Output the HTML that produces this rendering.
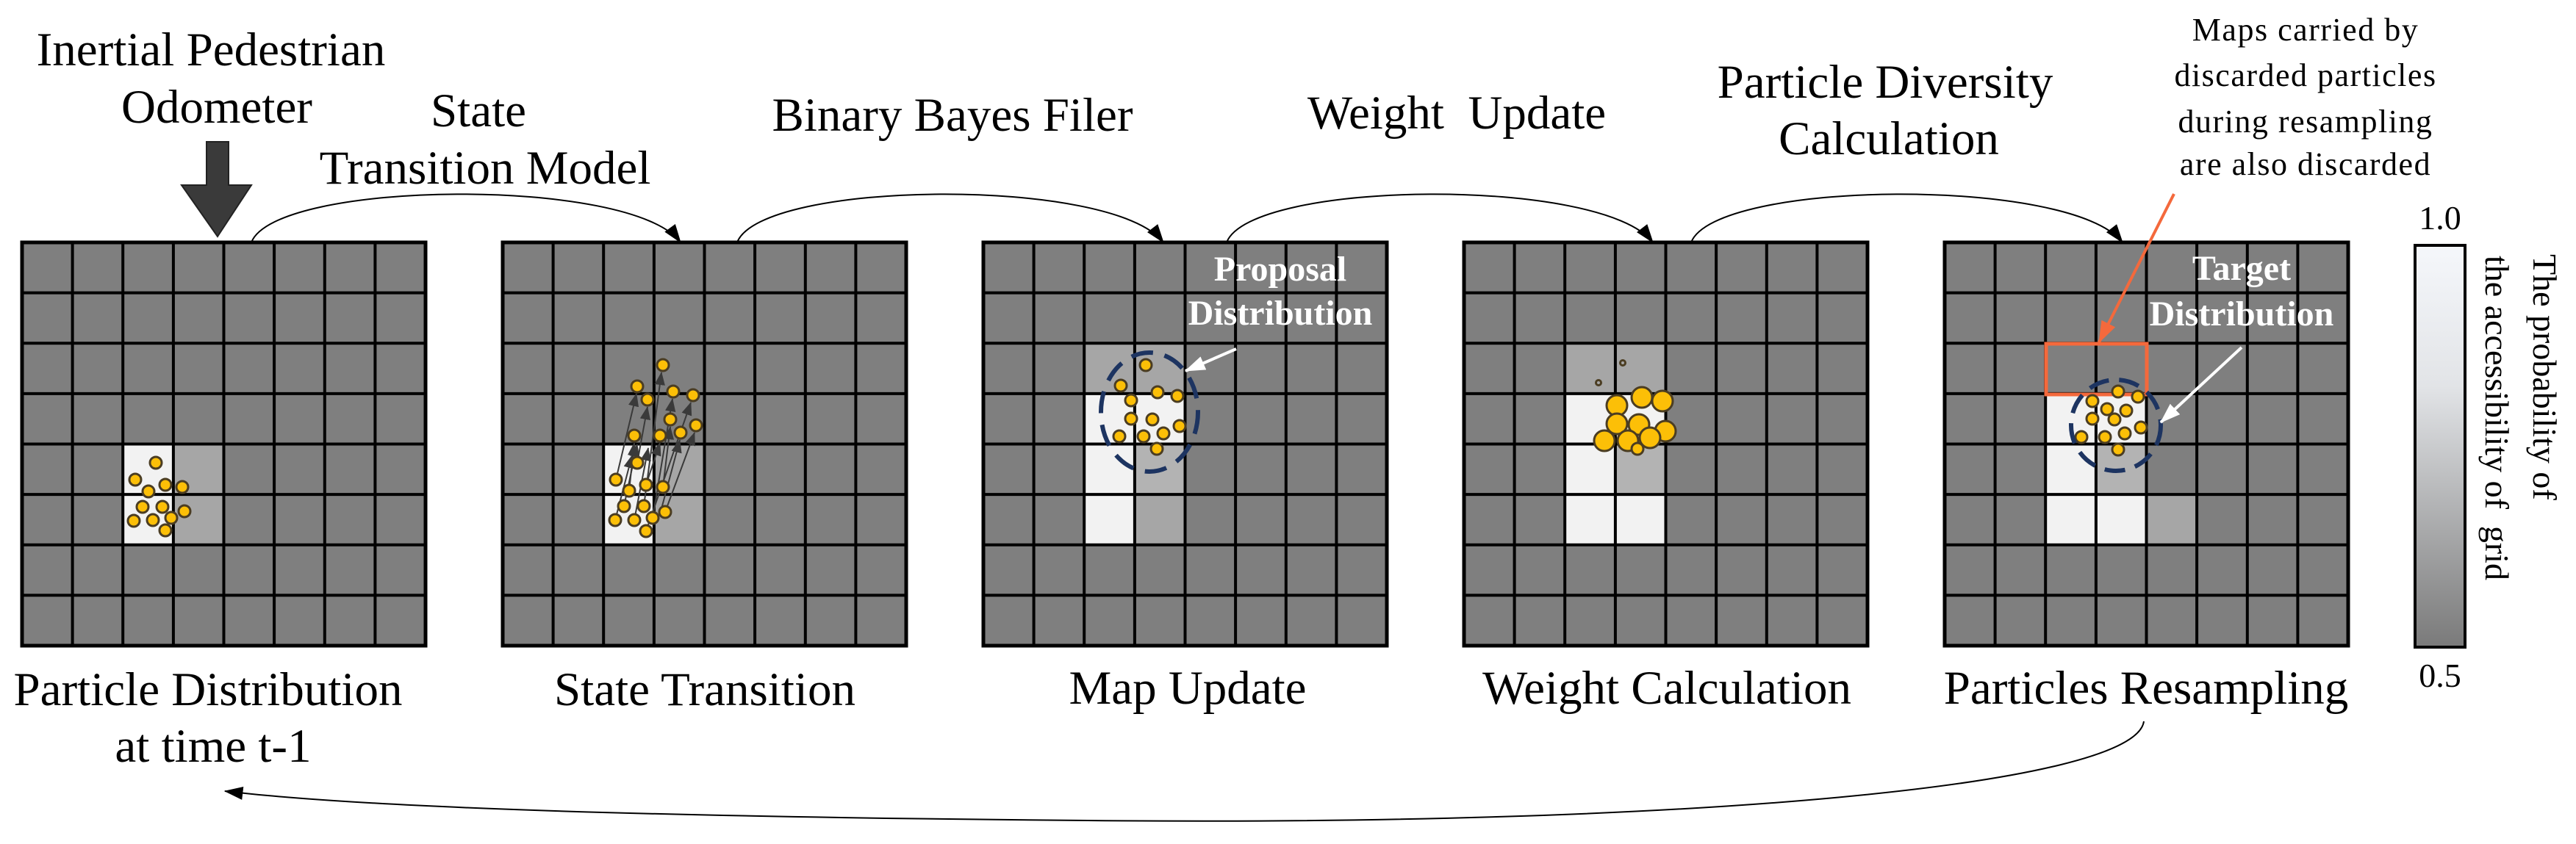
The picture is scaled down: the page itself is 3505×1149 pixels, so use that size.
<!DOCTYPE html>
<html><head><meta charset="utf-8"><style>
html,body{margin:0;padding:0;background:#fff;}
svg{display:block;font-family:"Liberation Serif","DejaVu Serif","Times New Roman",Times,serif;}
svg text{font-family:"Liberation Serif","DejaVu Serif","Times New Roman",Times,serif;fill:#000;}
</style></head><body>
<svg width="3505" height="1149" viewBox="0 0 3505 1149" xmlns="http://www.w3.org/2000/svg" font-family="Liberation Serif, DejaVu Serif, serif">
<defs>
<marker id="arr" viewBox="0 0 20 14" refX="19" refY="7" markerWidth="26" markerHeight="18" markerUnits="userSpaceOnUse" orient="auto"><path d="M0,0 L20,7 L0,14 Z" fill="#000"/></marker>
<marker id="warr" viewBox="0 0 20 14" refX="19" refY="7" markerWidth="28" markerHeight="20" markerUnits="userSpaceOnUse" orient="auto"><path d="M0,0 L20,7 L0,14 Z" fill="#fff"/></marker>
<marker id="oarr" viewBox="0 0 20 14" refX="19" refY="7" markerWidth="30" markerHeight="22" markerUnits="userSpaceOnUse" orient="auto"><path d="M0,0 L20,7 L0,14 Z" fill="#f4693c"/></marker>
<marker id="sarr" viewBox="0 0 20 16" refX="19" refY="8" markerWidth="18" markerHeight="16" markerUnits="userSpaceOnUse" orient="auto"><path d="M0,0 L20,8 L0,16 Z" fill="#3a3a3a"/></marker>
<g id="lines" stroke="#000" stroke-width="4" fill="none">
<line x1="68.6" y1="0" x2="68.6" y2="549"/><line x1="137.2" y1="0" x2="137.2" y2="549"/><line x1="205.9" y1="0" x2="205.9" y2="549"/><line x1="274.5" y1="0" x2="274.5" y2="549"/><line x1="343.1" y1="0" x2="343.1" y2="549"/><line x1="411.8" y1="0" x2="411.8" y2="549"/><line x1="480.4" y1="0" x2="480.4" y2="549"/>
<line y1="68.6" x1="0" y2="68.6" x2="549"/><line y1="137.2" x1="0" y2="137.2" x2="549"/><line y1="205.9" x1="0" y2="205.9" x2="549"/><line y1="274.5" x1="0" y2="274.5" x2="549"/><line y1="343.1" x1="0" y2="343.1" x2="549"/><line y1="411.8" x1="0" y2="411.8" x2="549"/><line y1="480.4" x1="0" y2="480.4" x2="549"/>
<rect x="0" y="0" width="549" height="549" stroke-width="5"/>
</g>
<linearGradient id="cb" x1="0" y1="0" x2="0" y2="1"><stop offset="0" stop-color="#f5f7fb"/><stop offset="0.35" stop-color="#e2e4e7"/><stop offset="1" stop-color="#7a7a7a"/></linearGradient>
</defs>

<g transform="translate(30,330)">
<rect width="549" height="549" fill="#7f7f7f"/>
<rect x="137.2" y="274.5" width="68.6" height="137.3" fill="#f2f2f2"/>
<rect x="205.9" y="274.5" width="68.6" height="137.3" fill="#a6a6a6"/>
<use href="#lines"/>
</g>
<g transform="translate(684,330)">
<rect width="549" height="549" fill="#7f7f7f"/>
<rect x="137.2" y="274.5" width="68.6" height="137.3" fill="#f2f2f2"/>
<rect x="205.9" y="274.5" width="68.6" height="137.3" fill="#a6a6a6"/>
<use href="#lines"/>
</g>
<g transform="translate(1338,330)">
<rect width="549" height="549" fill="#7f7f7f"/>
<rect x="137.2" y="137.2" width="137.3" height="68.7" fill="#a6a6a6"/>
<rect x="137.2" y="205.9" width="137.3" height="68.6" fill="#f2f2f2"/>
<rect x="137.2" y="274.5" width="68.7" height="137.3" fill="#f2f2f2"/>
<rect x="205.9" y="274.5" width="68.6" height="68.6" fill="#b3b3b3"/>
<rect x="205.9" y="343.1" width="68.6" height="68.7" fill="#a6a6a6"/>
<use href="#lines"/>
</g>
<g transform="translate(1992,330)">
<rect width="549" height="549" fill="#7f7f7f"/>
<rect x="137.2" y="137.2" width="137.3" height="68.7" fill="#a6a6a6"/>
<rect x="137.2" y="205.9" width="137.3" height="68.6" fill="#f2f2f2"/>
<rect x="137.2" y="274.5" width="68.7" height="137.3" fill="#f2f2f2"/>
<rect x="205.9" y="274.5" width="68.6" height="68.6" fill="#b3b3b3"/>
<rect x="205.9" y="343.1" width="68.6" height="68.7" fill="#f2f2f2"/>
<use href="#lines"/>
</g>
<g transform="translate(2646,330)">
<rect width="549" height="549" fill="#7f7f7f"/>
<rect x="137.2" y="205.9" width="137.3" height="68.6" fill="#f2f2f2"/>
<rect x="137.2" y="274.5" width="68.7" height="137.3" fill="#f2f2f2"/>
<rect x="205.9" y="274.5" width="68.6" height="68.6" fill="#b3b3b3"/>
<rect x="205.9" y="343.1" width="68.6" height="68.7" fill="#f2f2f2"/>
<rect x="274.5" y="343.1" width="68.6" height="68.7" fill="#a6a6a6"/>
<use href="#lines"/>
</g>

<g fill="#fcbf07" stroke="#4b3d22" stroke-width="3">
<circle cx="212" cy="630" r="8"/><circle cx="184" cy="653" r="8"/><circle cx="202" cy="669" r="8"/><circle cx="225" cy="660" r="8"/><circle cx="248" cy="663" r="8"/><circle cx="194" cy="690" r="8"/><circle cx="221" cy="690" r="8"/><circle cx="251" cy="696" r="8"/><circle cx="182" cy="709" r="8"/><circle cx="208" cy="708" r="8"/><circle cx="233" cy="705" r="8"/><circle cx="225" cy="722" r="8"/>
</g>

<g stroke="#3a3a3a" stroke-width="2" marker-end="url(#sarr)" fill="none">
<line x1="838" y1="653" x2="866" y2="536"/>
<line x1="867" y1="630" x2="881" y2="554"/>
<line x1="856" y1="668" x2="863" y2="603"/>
<line x1="879" y1="660" x2="898" y2="603"/>
<line x1="902" y1="663" x2="912" y2="581"/>
<line x1="849" y1="689" x2="867" y2="605"/>
<line x1="876" y1="689" x2="900" y2="507"/>
<line x1="837" y1="708" x2="860" y2="620"/>
<line x1="863" y1="708" x2="882" y2="610"/>
<line x1="888" y1="705" x2="915" y2="543"/>
<line x1="905" y1="697" x2="945" y2="589"/>
<line x1="879" y1="723" x2="940" y2="548"/>
<line x1="898" y1="700" x2="925" y2="599"/>
</g>
<g fill="#fcbf07" stroke="#4b3d22" stroke-width="3">
<circle cx="902" cy="497" r="8"/><circle cx="867" cy="526" r="8"/><circle cx="881" cy="544" r="8"/><circle cx="916" cy="533" r="8"/><circle cx="943" cy="538" r="8"/><circle cx="912" cy="571" r="8"/><circle cx="947" cy="579" r="8"/><circle cx="926" cy="589" r="8"/><circle cx="863" cy="593" r="8"/><circle cx="898" cy="593" r="8"/>
<circle cx="838" cy="653" r="8"/><circle cx="867" cy="630" r="8"/><circle cx="856" cy="668" r="8"/><circle cx="879" cy="660" r="8"/><circle cx="902" cy="663" r="8"/><circle cx="849" cy="689" r="8"/><circle cx="876" cy="689" r="8"/><circle cx="837" cy="708" r="8"/><circle cx="863" cy="708" r="8"/><circle cx="888" cy="705" r="8"/><circle cx="905" cy="697" r="8"/><circle cx="879" cy="723" r="8"/>
</g>

<g fill="#fcbf07" stroke="#4b3d22" stroke-width="3">
<circle cx="1559" cy="497" r="8"/><circle cx="1525" cy="525" r="8"/><circle cx="1539" cy="545" r="8"/><circle cx="1575" cy="534" r="8"/><circle cx="1602" cy="539" r="8"/><circle cx="1539" cy="570" r="8"/><circle cx="1568" cy="571" r="8"/><circle cx="1605" cy="580" r="8"/><circle cx="1523" cy="594" r="8"/><circle cx="1556" cy="594" r="8"/><circle cx="1583" cy="590" r="8"/><circle cx="1574" cy="611" r="8"/>
</g>
<ellipse cx="1564" cy="561" rx="66" ry="81" fill="none" stroke="#1d3461" stroke-width="6" stroke-dasharray="30 16"/>
<line x1="1682" y1="475" x2="1613" y2="505" stroke="#fff" stroke-width="4" marker-end="url(#warr)"/>
<text x="1742" y="382" font-size="48" font-weight="bold" text-anchor="middle" style="fill:#fff">Proposal</text>
<text x="1742" y="442" font-size="48" font-weight="bold" text-anchor="middle" style="fill:#fff">Distribution</text>

<g fill="#fcbf07" stroke="#4b3d22" stroke-width="3">
<circle cx="2208" cy="494" r="3.5" fill="none"/><circle cx="2175" cy="521" r="3.5" fill="none"/>
<circle cx="2200" cy="552" r="14"/><circle cx="2234" cy="541" r="14"/><circle cx="2262" cy="546" r="14"/><circle cx="2200" cy="577" r="14"/><circle cx="2230" cy="578" r="14"/><circle cx="2266" cy="587" r="14"/><circle cx="2183" cy="600" r="14"/><circle cx="2215" cy="600" r="14"/><circle cx="2245" cy="596" r="14"/><circle cx="2228" cy="611" r="8"/>
</g>

<rect x="2784" y="468" width="137" height="69" fill="none" stroke="#f4693c" stroke-width="5"/>
<g fill="#fcbf07" stroke="#4b3d22" stroke-width="3">
<circle cx="2847" cy="546" r="8"/><circle cx="2882" cy="533" r="8"/><circle cx="2909" cy="540" r="8"/><circle cx="2867" cy="557" r="8"/><circle cx="2893" cy="559" r="8"/><circle cx="2847" cy="570" r="8"/><circle cx="2877" cy="571" r="8"/><circle cx="2913" cy="582" r="8"/><circle cx="2832" cy="595" r="8"/><circle cx="2864" cy="595" r="8"/><circle cx="2891" cy="590" r="8"/><circle cx="2882" cy="612" r="8"/>
</g>
<ellipse cx="2879" cy="579" rx="61" ry="62" fill="none" stroke="#1d3461" stroke-width="6" stroke-dasharray="28 14"/>
<line x1="3050" y1="473" x2="2940" y2="575" stroke="#fff" stroke-width="4" marker-end="url(#warr)"/>
<text x="3050" y="381" font-size="48" font-weight="bold" text-anchor="middle" style="fill:#fff">Target</text>
<text x="3050" y="443" font-size="48" font-weight="bold" text-anchor="middle" style="fill:#fff">Distribution</text>
<line x1="2958" y1="264" x2="2856" y2="466" stroke="#f4693c" stroke-width="4" marker-end="url(#oarr)"/>

<path d="M281,193 L311,193 L311,252 L342,252 L296,322 L247,252 L281,252 Z" fill="#3a3a3a" stroke="#222" stroke-width="2"/>

<g fill="none" stroke="#000" stroke-width="2" marker-end="url(#arr)">
<path d="M342,330 C375,245 860,240 926,330"/>
<path d="M1003,330 C1036,245 1514,240 1583,330"/>
<path d="M1669,330 C1702,245 2180,240 2249,330"/>
<path d="M2301,330 C2334,245 2818,240 2888,330"/>
<path d="M2917,982 C2905,1070 2300,1125 1480,1117 C900,1112 500,1100 306,1077"/>
</g>

<rect x="3286" y="334" width="68" height="547" fill="url(#cb)" stroke="#000" stroke-width="4"/>
<text x="3320" y="312" font-size="46" text-anchor="middle">1.0</text>
<text x="3320" y="935" font-size="46" text-anchor="middle">0.5</text>
<text transform="translate(3447,346) rotate(90)" font-size="46">The probability of</text>
<text transform="translate(3382,348) rotate(90)" font-size="46" xml:space="preserve">the accessibility of  grid</text>

<g font-size="65" text-anchor="middle">
<text x="287" y="89">Inertial Pedestrian</text>
<text x="295" y="167">Odometer</text>
<text x="651" y="172">State</text>
<text x="660" y="250">Transition Model</text>
<text x="1296" y="178">Binary Bayes Filer</text>
<text x="1982" y="175" xml:space="preserve">Weight  Update</text>
<text x="2565" y="133">Particle Diversity</text>
<text x="2570" y="210">Calculation</text>
<text x="283" y="960">Particle Distribution</text>
<text x="290" y="1037">at time t-1</text>
<text x="959" y="960">State Transition</text>
<text x="1616" y="958">Map Update</text>
<text x="2268" y="958">Weight Calculation</text>
<text x="2920" y="958">Particles Resampling</text>
</g>
<g font-size="44" text-anchor="middle" letter-spacing="1.5">
<text x="3137" y="55">Maps carried by</text>
<text x="3137" y="117">discarded particles</text>
<text x="3137" y="180">during resampling</text>
<text x="3137" y="238">are also discarded</text>
</g>
</svg>
</body></html>
